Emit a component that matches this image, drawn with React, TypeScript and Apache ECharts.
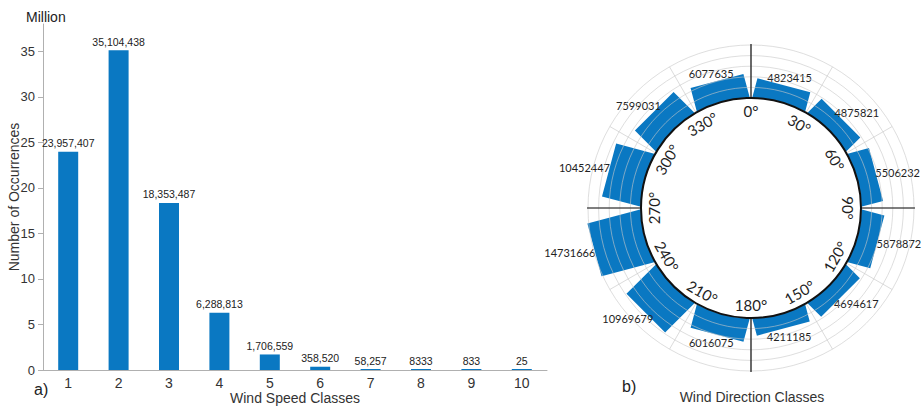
import React, { useEffect, useRef } from "react";
import * as echarts from "echarts";

// Wind speed classes (panel a)
const speedClasses = ["1", "2", "3", "4", "5", "6", "7", "8", "9", "10"];
const speedCounts = [23957407, 35104438, 18353487, 6288813, 1706559, 358520, 58257, 8333, 833, 25];
const speedTicks = [0, 5, 10, 15, 20, 25, 30, 35];

// Wind direction classes (panel b), 30° sectors
const directionTickAngles = [0, 30, 60, 90, 120, 150, 180, 210, 240, 270, 300, 330];
const directionTickLabels = ["0°", "30°", "60°", "90°", "120°", "150°", "180°", "210°", "240°", "270°", "300°", "330°"];
const directionCentres = [15, 45, 75, 105, 135, 165, 195, 225, 255, 285, 315, 345];
const directionCounts = [4823415, 4875821, 5506232, 5878872, 4694617, 4211185, 6016075, 10969679, 14731666, 10452447, 7599031, 6077635];

// Layout of the rose
const CX = 751;
const CY = 208;
const R0 = 110;
const R1 = 163;
const SECTOR_HALF = 14.4;

const SANS = "Liberation Sans, Arial, sans-serif";
const ROSE_FONT = "Lato, 'Open Sans', sans-serif";
const ROSE_LABEL_SIZE = 11;
const BLUE = "#0a78c2";

const fmtSpeed = (n: number) => (n >= 10000 ? n.toLocaleString("en-US") : String(n));

let measureCtx: CanvasRenderingContext2D | null = null;
function textWidth(text: string, font: string) {
  if (!measureCtx) measureCtx = document.createElement("canvas").getContext("2d");
  if (!measureCtx) return text.length * 6.5;
  measureCtx.font = font;
  return measureCtx.measureText(text).width;
}

function tickRotation(a: number) {
  if (a <= 90) return a;
  if (a < 270) return a - 180;
  return a - 360;
}

export default function App() {
  const ref = useRef<HTMLDivElement>(null);

  useEffect(() => {
    if (!ref.current) return;
    const chart = echarts.init(ref.current, undefined, { renderer: "svg" });

    const angleLabels = directionTickAngles.map((a, i) => {
      const rad = (a * Math.PI) / 180;
      const rl = R0 - 13;
      return {
        type: "text",
        x: CX + rl * Math.sin(rad),
        y: CY - rl * Math.cos(rad),
        rotation: (-tickRotation(a) * Math.PI) / 180,
        z: 12,
        style: {
          text: directionTickLabels[i],
          fontSize: 15,
          fontFamily: ROSE_FONT,
          fill: "#1f1f1f",
          align: "center",
          verticalAlign: "middle",
        },
      };
    });

    const cardinalLines = [0, 90, 180, 270].map((a) => {
      const rad = (a * Math.PI) / 180;
      return {
        type: "line",
        z: 12,
        shape: {
          x1: CX + R0 * Math.sin(rad),
          y1: CY - R0 * Math.cos(rad),
          x2: CX + (R1 + 1) * Math.sin(rad),
          y2: CY - (R1 + 1) * Math.cos(rad),
        },
        style: { stroke: "#111", lineWidth: 1.2 },
      };
    });

    const option: any = {
      animation: false,
      grid: { left: 43, right: 376, top: 24, bottom: 36, containLabel: false, outerBoundsMode: "none" },
      xAxis: {
        type: "category",
        data: speedClasses,
        name: "Wind Speed Classes",
        nameLocation: "middle",
        nameGap: 21,
        nameMoveOverlap: false,
        nameTextStyle: { fontSize: 14, color: "#333", fontFamily: SANS },
        axisLine: { lineStyle: { color: "#b0b0b0" } },
        axisTick: { length: 5, lineStyle: { color: "#b0b0b0" } },
        axisLabel: { fontSize: 14, color: "#333", fontFamily: SANS, margin: 6 },
      },
      yAxis: {
        type: "value",
        min: 0,
        max: 38,
        name: "Number of Occurrences",
        nameLocation: "middle",
        nameGap: 22,
        nameMoveOverlap: false,
        nameTextStyle: { fontSize: 14, color: "#333", fontFamily: SANS },
        axisLine: { show: true, lineStyle: { color: "#b0b0b0" } },
        axisTick: { show: true, length: 5, customValues: speedTicks, lineStyle: { color: "#b0b0b0" } },
        axisLabel: { fontSize: 13, color: "#333", fontFamily: SANS, margin: 8, customValues: speedTicks },
        splitLine: { show: false },
      },
      polar: { center: [CX, CY], radius: [R0, R1] },
      angleAxis: {
        type: "value",
        min: 0,
        max: 360,
        interval: 30,
        startAngle: 90,
        clockwise: true,
        axisLine: { show: false },
        axisTick: { show: false },
        axisLabel: { show: false },
        splitLine: { show: true, lineStyle: { color: "#dcdcdc" } },
      },
      radiusAxis: {
        type: "value",
        min: 0,
        max: 15,
        interval: 3,
        z: 3,
        axisLine: { show: false },
        axisTick: { show: false },
        axisLabel: { show: false },
        splitLine: { show: true, lineStyle: { color: "#c8c8c8", opacity: 0.6 } },
      },
      graphic: {
        elements: [
          {
            type: "circle",
            z: 11,
            shape: { cx: CX, cy: CY, r: R0 },
            style: { fill: "none", stroke: "#111", lineWidth: 2 },
          },
          ...cardinalLines,
          ...angleLabels,
          {
            type: "text",
            x: 26,
            y: 10,
            style: { text: "Million", fontSize: 14, fontFamily: SANS, fill: "#222" },
          },
          {
            type: "text",
            x: 34,
            y: 381,
            style: { text: "a)", fontSize: 16, fontFamily: SANS, fill: "#222" },
          },
          {
            type: "text",
            x: 622,
            y: 378,
            style: { text: "b)", fontSize: 16, fontFamily: SANS, fill: "#222" },
          },
          {
            type: "text",
            x: 752,
            y: 397,
            style: {
              text: "Wind Direction Classes",
              fontSize: 14,
              fontFamily: SANS,
              fill: "#333",
              align: "center",
              verticalAlign: "middle",
            },
          },
        ],
      },
      series: [
        {
          type: "bar",
          xAxisIndex: 0,
          yAxisIndex: 0,
          data: speedCounts.map((c) => c / 1e6),
          barWidth: 20,
          barMinHeight: 1,
          itemStyle: { color: BLUE },
          label: {
            show: true,
            position: "top",
            distance: 3,
            fontSize: 10.5,
            color: "#222",
            fontFamily: SANS,
            formatter: (p: any) => fmtSpeed(speedCounts[p.dataIndex]),
          },
        },
        {
          type: "custom",
          coordinateSystem: "polar",
          data: directionCounts.map((c, i) => [c / 1e6, directionCentres[i]]),
          encode: { radius: 0, angle: 1 },
          renderItem: (params: any, api: any) => {
            const v = api.value(0);
            const a = api.value(1);
            const cx = params.coordSys.cx;
            const cy = params.coordSys.cy;
            const top = api.coord([v, a]);
            const rTop = Math.hypot(top[0] - cx, top[1] - cy);
            const d = [(top[0] - cx) / rTop, (top[1] - cy) / rTop];
            const p = [-d[1], d[0]];
            const arc: number[][] = [];
            const N = 10;
            for (let k = 0; k <= N; k++) {
              const ang = a - SECTOR_HALF + (2 * SECTOR_HALF * k) / N;
              const pt = api.coord([0, ang]);
              arc.push([pt[0], pt[1]]);
            }
            const off = (pt: number[]) => (pt[0] - cx) * p[0] + (pt[1] - cy) * p[1];
            const oEnd = off(arc[N]);
            const oStart = off(arc[0]);
            const points = [
              ...arc,
              [top[0] + oEnd * p[0], top[1] + oEnd * p[1]],
              [top[0] + oStart * p[0], top[1] + oStart * p[1]],
            ];
            const text = String(directionCounts[params.dataIndex]);
            const w = textWidth(text, `${ROSE_LABEL_SIZE}px Lato`);
            const h = 12;
            const tx = top[0] + (d[0] * w) / 2;
            const ty = top[1] + 2 * d[1] + (d[1] * h) / 2;
            return {
              type: "group",
              children: [
                {
                  type: "polygon",
                  shape: { points },
                  style: { fill: BLUE, stroke: "none" },
                },
                {
                  type: "text",
                  x: tx,
                  y: ty,
                  style: {
                    text,
                    fontSize: ROSE_LABEL_SIZE,
                    fontFamily: ROSE_FONT,
                    fill: "#222",
                    align: "center",
                    verticalAlign: "middle",
                  },
                },
              ],
            };
          },
        },
      ],
    };

    chart.setOption(option);
    return () => chart.dispose();
  }, []);

  return (
    <div
      ref={ref}
      style={{ position: "fixed", left: 0, top: 0, width: 923, height: 406, background: "#fff" }}
    />
  );
}
